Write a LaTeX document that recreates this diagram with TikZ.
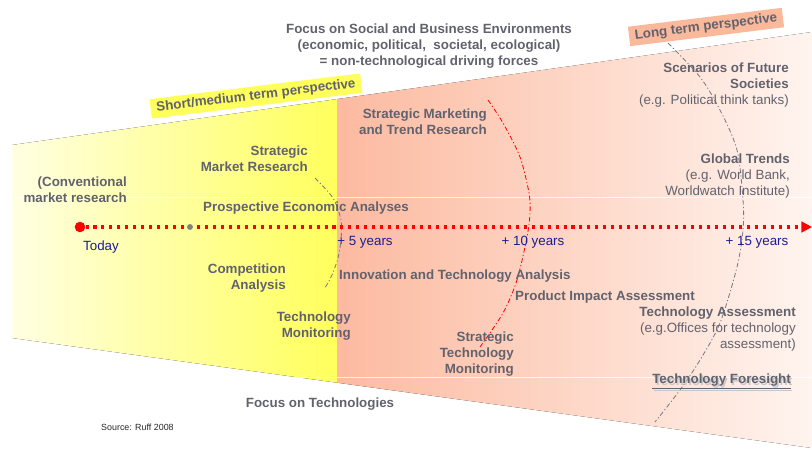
\documentclass[tikz,border=0pt]{standalone}
\usepackage{fontspec}
\setmainfont{Liberation Sans}
\usetikzlibrary{arrows.meta,math}
\definecolor{txtgray}{RGB}{98,98,110}
\definecolor{yrblue}{RGB}{28,28,150}
\definecolor{paleyel}{RGB}{255,255,226}
\definecolor{deepyel}{RGB}{255,255,92}
\definecolor{salmon}{RGB}{252,186,160}
\definecolor{palesalmon}{RGB}{255,244,239}
\definecolor{boxsalmon}{RGB}{250,185,155}
\definecolor{arcgray}{RGB}{120,120,128}

\begin{document}
\begin{tikzpicture}[x=0.03cm,y=-0.03cm,
    lbl/.style={font=\bfseries\fontsize{11.4}{13.6}\selectfont, text=txtgray, inner sep=0pt, align=right, anchor=north east},
    lbll/.style={lbl, align=left, anchor=north west},
    mixlbl/.style={lbl, font=\fontsize{11.4}{13.6}\selectfont},
    yrlbl/.style={font=\fontsize{11.4}{13.6}\selectfont, text=yrblue, inner sep=0pt},
    persp/.style={font=\bfseries\fontsize{11.4}{13.6}\selectfont, text=txtgray, rotate=7, inner xsep=5pt, inner ysep=3pt},
    arc/.style={line width=0.7pt, dash pattern=on 4pt off 2pt on 1pt off 2pt}]
  \tikzmath{\ta = 145; \tb = 32; \ba = 338; \bb = 448; \xa = 12; \xm = 337; \xb = 812;
    \tm = \ta + (\tb - \ta)/(\xb - \xa)*(\xm - \xa); \bm = \ba + (\bb - \ba)/(\xb - \xa)*(\xm - \xa);}
  \useasboundingbox (0,0) rectangle (812,451);
  \fill[left color=paleyel, right color=deepyel] (\xa,\ta) -- (\xm,\tm) -- (\xm,\bm) -- (\xa,\ba) -- cycle;
  \fill[left color=salmon, right color=palesalmon] (\xm,\tm) -- (\xb,\tb) -- (\xb,\bb) -- (\xm,\bm) -- cycle;
  \draw[white, line width=0.6pt, opacity=0.8] (\xa,197) -- (\xb,197);
  \draw[white, line width=0.6pt, opacity=0.8] (290,377) -- (\xb,377);

  \draw[arc, arcgray] plot[smooth] coordinates {(315,178) (333,198) (341,220) (341,240) (338,258) (332,275) (325,288)};
  \draw[arc, red] plot[smooth] coordinates {(488,100) (503,123) (520,157) (529,193) (530,213) (527,237) (517,280) (503,313) (480,347)};
  \draw[arc, arcgray] plot[smooth] coordinates {(668,43) (700,77) (720,110) (737,150) (743,200) (743,230) (737,267) (720,323) (700,360) (680,390) (655,422)};

  \node[circle, fill=red, inner sep=0pt, minimum size=9pt] (today) at (80,227) {};
  \coordinate (tip) at (812,227);
  \draw[red, line width=2.6pt, dash pattern=on 2.6pt off 4.2pt, -{Triangle[length=9pt, width=9pt]}] (today) -- (tip);
  \node[circle, fill=gray, inner sep=0pt, minimum size=5pt] (mark) at (190,227) {};

  \node[yrlbl] (t0) at (101,247) {Today};
  \node[yrlbl] (t5) at (365,242) {+ 5 years};
  \node[yrlbl] (t10) at (533,242) {+ 10 years};
  \node[yrlbl] (t15) at (757,242) {+ 15 years};

  \node[persp, fill=deepyel] (shortp) at (256,96) {Short/medium term perspective};
  \node[persp, fill=boxsalmon] (longp) at (706,27) {Long term perspective};

  \node[lbl, align=center, anchor=north] (social) at (429,24) {Focus on Social and Business Environments\\(economic, political,\ \ societal, ecological)\\= non-technological driving forces};
  \node[lbl] (stratmkt) at (487,109) {Strategic Marketing\\and Trend Research};
  \node[lbl] (marketres) at (308,146) {Strategic\\Market Research};
  \node[lbl] (convent) at (127,177) {(Conventional\\market research};
  \node[lbll] (prosp) at (203,202) {Prospective Economic Analyses};
  \node[lbl] (compet) at (286,264) {Competition\\Analysis};
  \node[lbll] (innov) at (339,270) {Innovation and Technology Analysis};
  \node[lbl] (techmon) at (351,312) {Technology\\Monitoring};
  \node[lbll] (impact) at (515,291) {Product Impact Assessment};
  \node[lbl] (strattech) at (514,332) {Strategic\\Technology\\Monitoring};
  \node[lbl, align=center, anchor=north] (focustech) at (320,398) {Focus on Technologies};
  \node[font=\fontsize{7.6}{9}\selectfont, text=black!85, anchor=west, inner sep=0pt] (source) at (101,427) {Source: Ruff 2008};

  \node[mixlbl] (scen) at (789,63) {\textbf{Scenarios of Future}\\\textbf{Societies}\\(e.g. Political think tanks)};
  \node[mixlbl] (global) at (790,154) {\textbf{Global Trends}\\(e.g. World Bank,\\Worldwatch Institute)};
  \node[mixlbl] (techass) at (796,307) {\textbf{Technology Assessment}\\(e.g.Offices for technology\\assessment)};
  \node[lbl, text=black!22] at (792.5,375.5) {\underline{Technology Foresight}};
  \node[lbl] (foresight) at (791,374) {\underline{Technology Foresight}};
\end{tikzpicture}
\end{document}
